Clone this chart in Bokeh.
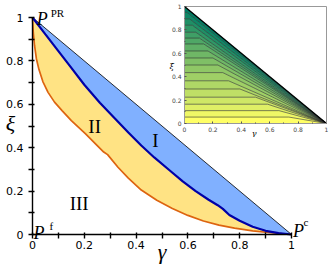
from bokeh.plotting import figure
from bokeh.models import Range1d, FixedTicker, Label, GridBox, LinearAxis
from bokeh.embed import file_html
from bokeh.resources import INLINE

# ---------------- data ----------------
boundary_gamma = [0.0, 1.0]
boundary_xi = [1.0, 0.0]

blue_gamma = [0, 0.05, 0.1, 0.15, 0.2, 0.26, 0.32, 0.37, 0.42, 0.47, 0.53, 0.58,
              0.63, 0.68, 0.715, 0.735, 0.76, 0.8, 0.85, 0.9, 0.95, 1.0]
blue_xi = [1, 0.922, 0.845, 0.768, 0.69, 0.607, 0.532, 0.47, 0.41, 0.355, 0.295, 0.245,
           0.2, 0.16, 0.135, 0.118, 0.09, 0.063, 0.036, 0.017, 0.006, 0]

orange_gamma = [0, 0.003, 0.008, 0.015, 0.025, 0.04, 0.06, 0.085, 0.115, 0.15, 0.205, 0.25,
                0.275, 0.29, 0.33, 0.37, 0.42, 0.48, 0.54, 0.6, 0.66, 0.72, 0.78, 0.85, 0.92, 1.0]
orange_xi = [1, 0.93, 0.87, 0.81, 0.76, 0.705, 0.655, 0.61, 0.57, 0.525, 0.464, 0.41,
             0.38, 0.368, 0.31, 0.26, 0.205, 0.158, 0.12, 0.088, 0.062, 0.043, 0.029, 0.017, 0.008, 0]

major_ticks = [0, 0.2, 0.4, 0.6, 0.8, 1.0]
minor_ticks = [0.1, 0.3, 0.5, 0.7, 0.9]
tick_labels = ["0", "0.2", "0.4", "0.6", "0.8", "1"]

# inset contour levels (xi value at gamma=0) and the gamma where each bends
inset_levels = [0.055, 0.11, 0.165, 0.225, 0.295, 0.365, 0.435, 0.5, 0.56, 0.62,
                0.68, 0.73, 0.78, 0.84, 0.895, 0.95]
inset_bends = [0.735, 0.665, 0.585, 0.50, 0.39, 0.31, 0.27, 0.235, 0.2, 0.165,
               0.135, 0.105, 0.08, 0.055, 0.035, 0.018]

SERIF = "Liberation Serif"

# ---------------- main figure (frame covers whole canvas, axes fixed at 0) ----------------
p = figure(width=332, height=270,
           x_range=Range1d(-32 / 259, 1 + 41 / 259), y_range=Range1d(-36 / 217, 1 + 17 / 217),
           output_backend="svg", toolbar_location=None,
           min_border_left=0, min_border_right=0, min_border_top=0, min_border_bottom=0)
p.outline_line_color = None
p.grid.visible = False
p.background_fill_color = "white"

for ax in (p.xaxis[0], p.yaxis[0]):
    ax.fixed_location = 0
    ax.bounds = (0, 1)
    ax.ticker = FixedTicker(ticks=major_ticks, minor_ticks=minor_ticks)
    ax.major_label_overrides = {t: l for t, l in zip(major_ticks, tick_labels)}
    ax.axis_line_width = 1.4
    ax.major_tick_line_width = 1.4
    ax.minor_tick_line_width = 1.4
    ax.major_tick_in = 2
    ax.major_tick_out = 4
    ax.minor_tick_in = 2
    ax.minor_tick_out = 4
    ax.major_label_text_font = "DejaVu Sans"
    ax.major_label_text_font_size = "11px"
    ax.major_label_text_color = "black"
p.yaxis.major_label_standoff = 5
p.xaxis.major_label_standoff = 2

# blue region: between diagonal and blue curve
p.patch(x=boundary_gamma + blue_gamma[::-1], y=boundary_xi + blue_xi[::-1],
        fill_color="#80b0ff", line_color=None, level="underlay")
# yellow region: between blue and orange curve
p.patch(x=blue_gamma + orange_gamma[::-1], y=blue_xi + orange_xi[::-1],
        fill_color="#ffe384", line_color=None, level="underlay")

p.line(boundary_gamma, boundary_xi, line_color="black", line_width=0.8)
p.line(orange_gamma, orange_xi, line_color="#dd6410", line_width=1.7)
p.line(blue_gamma, blue_xi, line_color="#0000a8", line_width=2.2)

def lab(fig, x, y, text, size, style="normal", font=SERIF, align="left", base="alphabetic"):
    fig.add_layout(Label(x=x, y=y, text=text, text_font=font, text_font_size=size,
                         text_font_style=style, text_align=align, text_baseline=base,
                         text_color="black"))

lab(p, 0.475, 0.433, "I", "19px", align="center", base="middle")
lab(p, 0.24, 0.50, "II", "19px", align="center", base="middle")
lab(p, 0.18, 0.143, "III", "19px", align="center", base="middle")

lab(p, 0.016, 0.991, "P", "18px", style="italic")
lab(p, 0.07, 1.021, "PR", "11px")
lab(p, 0.004, 0.009, "P", "18px", style="italic")
lab(p, 0.066, 0.037, "f", "11px")
lab(p, 1.006, 0.018, "P", "18px", style="italic")
lab(p, 1.046, 0.058, "c", "11px")

lab(p, -0.085, 0.51, "ξ", "22px", style="italic", align="center", base="middle")
lab(p, 0.50, -0.08, "γ", "22px", style="italic", align="center", base="middle")

# ---------------- inset ----------------
p2 = figure(width=164, height=137,
            x_range=Range1d(-16 / 142, 1 + 6 / 142), y_range=Range1d(-14 / 117, 1 + 6 / 117),
            output_backend="svg", toolbar_location=None,
            min_border_left=0, min_border_right=0, min_border_top=0, min_border_bottom=0)
p2.grid.visible = False
p2.outline_line_color = None
p2.background_fill_alpha = 0
p2.border_fill_alpha = 0
for ax in (p2.xaxis[0], p2.yaxis[0]):
    ax.fixed_location = 0
    ax.bounds = (0, 1)
    ax.ticker = FixedTicker(ticks=major_ticks, minor_ticks=minor_ticks)
    ax.major_label_overrides = {t: l for t, l in zip(major_ticks, tick_labels)}
    ax.axis_line_color = "#999999"
    ax.major_tick_in = 2
    ax.major_tick_out = 0
    ax.minor_tick_in = 1
    ax.minor_tick_out = 0
    ax.major_tick_line_color = "#555555"
    ax.minor_tick_line_color = "#555555"
    ax.major_label_text_font = "DejaVu Sans"
    ax.major_label_text_font_size = "6px"
    ax.major_label_standoff = 3

for side in ("above", "right"):
    frame_ax = LinearAxis(fixed_location=1, bounds=(0, 1), ticker=FixedTicker(ticks=[]),
                          axis_line_color="#999999", major_tick_line_color=None,
                          minor_tick_line_color=None)
    p2.add_layout(frame_ax, side)

n = len(inset_levels)
band_xs, band_ys, band_colors = [], [], []
for i in range(n + 1):
    if i == 0:
        xs = [0, 1, inset_bends[0], 0]
        ys = [0, 0, inset_levels[0], inset_levels[0]]
    elif i == n:
        xs = [0, inset_bends[n - 1], 1, 0]
        ys = [inset_levels[n - 1], inset_levels[n - 1], 0, 1]
    else:
        xs = [0, inset_bends[i - 1], 1, inset_bends[i], 0]
        ys = [inset_levels[i - 1], inset_levels[i - 1], 0, inset_levels[i], inset_levels[i]]
    v = 1 - i / n  # summer colormap, reversed
    r, g, b = int(255 * v), int(255 * (0.5 + 0.5 * v)), int(255 * 0.4)
    band_xs.append(xs)
    band_ys.append(ys)
    band_colors.append("#%02x%02x%02x" % (r, g, b))

p2.patches(band_xs, band_ys, fill_color=band_colors, line_color=band_colors, line_width=0.4,
           level="underlay")
p2.multi_line([[0, bx, 1] for bx in inset_bends], [[lv, lv, 0] for lv in inset_levels],
              line_color="#333333", line_width=0.6)
p2.line(boundary_gamma, boundary_xi, line_color="black", line_width=1.4)

lab(p2, -0.09, 0.49, "ξ", "8px", style="italic", font="DejaVu Serif", align="center", base="middle")
lab(p2, 0.49, -0.085, "γ", "8px", style="italic", font="DejaVu Serif", align="center", base="middle")

p2.margin = (0, 0, 0, 168)

grid = GridBox(children=[(p, 0, 0), (p2, 0, 0)])

open("out.html", "w").write(file_html(grid, INLINE))
